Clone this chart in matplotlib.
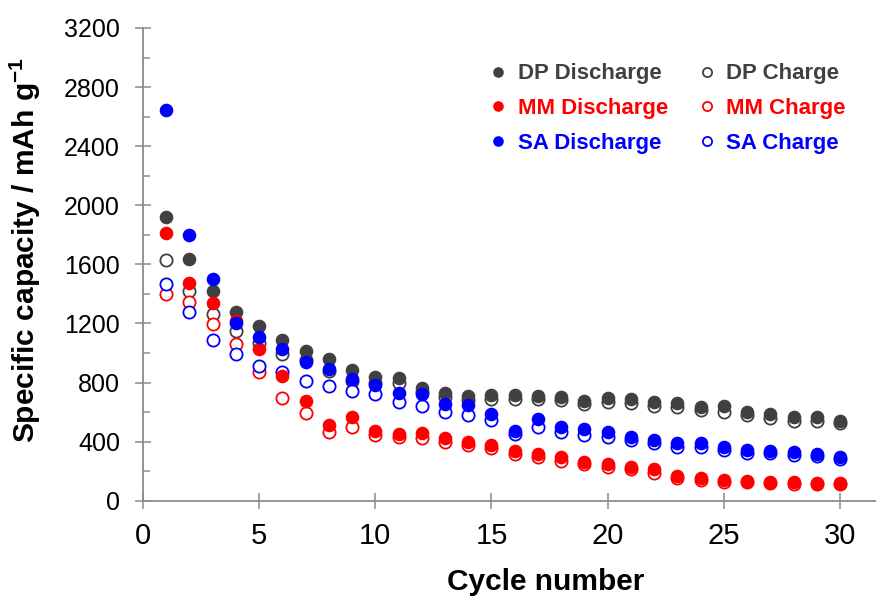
import numpy as np
import matplotlib
matplotlib.use('Agg')
import matplotlib.pyplot as plt
from matplotlib.ticker import MultipleLocator

plt.rcParams['font.family'] = ['Liberation Sans', 'DejaVu Sans']

cycles = np.arange(1, 31)

dp_dis = [1920, 1635, 1422, 1275, 1185, 1088, 1016, 959, 885, 839, 829, 761, 727, 709, 716,
          716, 711, 704, 677, 695, 688, 670, 659, 632, 641, 600, 587, 565, 565, 542]
dp_ch = [1630, 1420, 1262, 1151, 1066, 991, 950, 880, 810, 800, 795, 738, 704, 682, 686,
         687, 686, 682, 653, 665, 659, 641, 632, 614, 602, 580, 558, 542, 542, 524]
mm_dis = [1810, 1476, 1340, 1215, 1027, 844, 677, 510, 565, 474, 451, 456, 422, 400, 377,
          339, 316, 294, 262, 246, 230, 212, 169, 152, 140, 133, 129, 124, 118, 118]
mm_ch = [1399, 1345, 1196, 1059, 873, 697, 596, 467, 501, 445, 429, 422, 400, 377, 355,
         316, 298, 267, 250, 230, 218, 190, 152, 140, 130, 125, 120, 115, 110, 110]
sa_dis = [2645, 1799, 1499, 1201, 1110, 1025, 941, 889, 826, 781, 731, 720, 655, 646, 585,
          474, 553, 499, 487, 462, 433, 411, 393, 388, 366, 343, 339, 330, 316, 294]
sa_ch = [1465, 1275, 1086, 995, 914, 873, 810, 776, 745, 720, 670, 643, 600, 578, 546,
         449, 499, 463, 445, 433, 411, 388, 366, 366, 343, 321, 321, 309, 300, 280]

c_dp = '#404040'
c_mm = '#ff0000'
c_sa = '#0000ff'
axis_col = '#8c8c8c'

fig = plt.figure(figsize=(8.76, 5.98), dpi=100)
ax = fig.add_axes([0.1632, 0.1627, 0.8368, 0.7905])

ms = 8.8
# charge (open) first, discharge (filled) on top
h_dpc, = ax.plot(cycles, dp_ch, 'o', ms=ms, mfc='white', mec=c_dp, mew=1.3, ls='none', label='DP Charge')
h_mmc, = ax.plot(cycles, mm_ch, 'o', ms=ms, mfc='white', mec=c_mm, mew=1.3, ls='none', label='MM Charge')
h_sac, = ax.plot(cycles, sa_ch, 'o', ms=ms, mfc='white', mec=c_sa, mew=1.3, ls='none', label='SA Charge')
h_dpd, = ax.plot(cycles, dp_dis, 'o', ms=ms, color=c_dp, mec=c_dp, ls='none', label='DP Discharge')
h_mmd, = ax.plot(cycles, mm_dis, 'o', ms=ms, color=c_mm, mec=c_mm, ls='none', label='MM Discharge')
h_sad, = ax.plot(cycles, sa_dis, 'o', ms=ms, color=c_sa, mec=c_sa, ls='none', label='SA Discharge')

ax.set_xlim(0, 31.55)
ax.set_ylim(0, 3200)
ax.xaxis.set_major_locator(MultipleLocator(5))
ax.yaxis.set_major_locator(MultipleLocator(400))
ax.yaxis.set_minor_locator(MultipleLocator(200))

for s in ['top', 'right']:
    ax.spines[s].set_visible(False)
for s in ['left', 'bottom']:
    ax.spines[s].set_color(axis_col)
    ax.spines[s].set_linewidth(1.3)

ax.tick_params(axis='both', which='major', direction='inout', length=11, width=1.1,
               color=axis_col, labelcolor='black')
ax.tick_params(axis='y', which='major', labelsize=18, pad=11)
ax.tick_params(axis='y', which='minor', direction='in', length=5, width=1.1, color=axis_col)
ax.tick_params(axis='x', which='major', labelsize=21, pad=10)

ax.set_xlabel('Cycle number', fontsize=21.5, fontweight='bold')
ax.xaxis.set_label_coords(0.55, -0.143)
ax.set_ylabel('Specific capacity / mAh g$^{\\mathregular{-1}}$', fontsize=21.5, fontweight='bold')
ax.yaxis.set_label_coords(-0.137, 0.53)

handles = [h_dpd, h_mmd, h_sad, h_dpc, h_mmc, h_sac]
text_cols = [c_dp, c_mm, c_sa, c_dp, c_mm, c_sa]
leg = ax.legend(handles=handles, ncol=2, loc='upper left', bbox_to_anchor=(0.556, 0.894),
                bbox_transform=fig.transFigure, frameon=False, borderpad=0, borderaxespad=0,
                handlelength=1.0, handletextpad=0.37, columnspacing=1.27, labelspacing=0.62,
                markerscale=0.75, prop={'size': 16, 'weight': 'bold'})
for t, c in zip(leg.get_texts(), text_cols):
    t.set_color(c)

fig.savefig('out.png', dpi=100)
